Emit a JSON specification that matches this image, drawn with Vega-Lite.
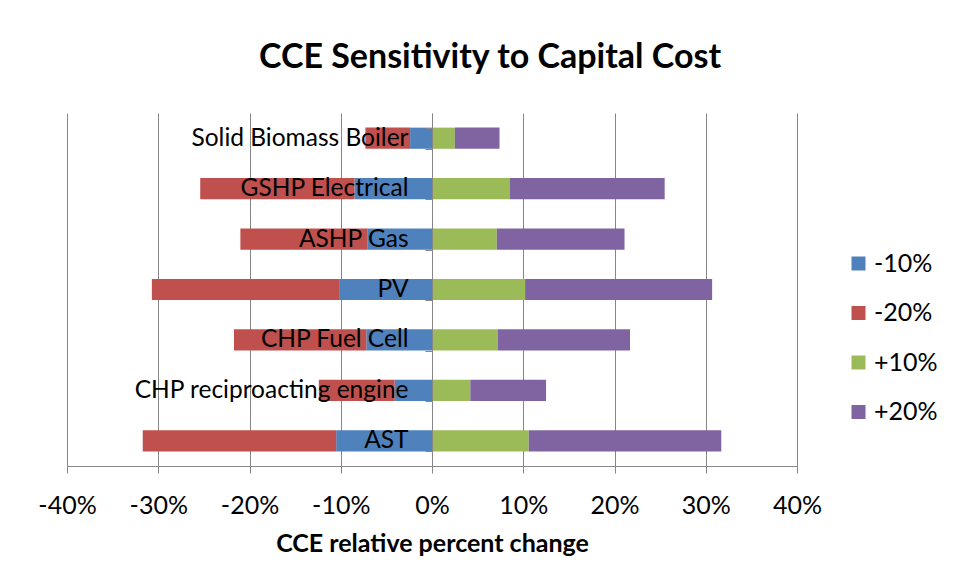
{
  "$schema": "https://vega.github.io/schema/vega-lite/v6.json",
  "width": 730,
  "height": 353,
  "autosize": {"type": "none"},
  "padding": {"left": 67, "top": 113, "right": 161, "bottom": 117},
  "background": "white",
  "title": {
    "text": "CCE Sensitivity to Capital Cost",
    "font": "Lato",
    "fontSize": 34,
    "fontWeight": "bold",
    "color": "#000000",
    "anchor": "middle",
    "frame": "group",
    "dx": 58,
    "offset": 25
  },
  "data": {
    "values": [
      {"tech": "Solid Biomass Boiler", "scenario": "-10%", "ord": 1, "value": -0.024},
      {"tech": "Solid Biomass Boiler", "scenario": "-20%", "ord": 2, "value": -0.049},
      {"tech": "Solid Biomass Boiler", "scenario": "+10%", "ord": 3, "value": 0.025},
      {"tech": "Solid Biomass Boiler", "scenario": "+20%", "ord": 4, "value": 0.049},
      {"tech": "GSHP Electrical", "scenario": "-10%", "ord": 1, "value": -0.085},
      {"tech": "GSHP Electrical", "scenario": "-20%", "ord": 2, "value": -0.169},
      {"tech": "GSHP Electrical", "scenario": "+10%", "ord": 3, "value": 0.085},
      {"tech": "GSHP Electrical", "scenario": "+20%", "ord": 4, "value": 0.170},
      {"tech": "ASHP Gas", "scenario": "-10%", "ord": 1, "value": -0.071},
      {"tech": "ASHP Gas", "scenario": "-20%", "ord": 2, "value": -0.139},
      {"tech": "ASHP Gas", "scenario": "+10%", "ord": 3, "value": 0.071},
      {"tech": "ASHP Gas", "scenario": "+20%", "ord": 4, "value": 0.140},
      {"tech": "PV", "scenario": "-10%", "ord": 1, "value": -0.101},
      {"tech": "PV", "scenario": "-20%", "ord": 2, "value": -0.206},
      {"tech": "PV", "scenario": "+10%", "ord": 3, "value": 0.102},
      {"tech": "PV", "scenario": "+20%", "ord": 4, "value": 0.205},
      {"tech": "CHP Fuel Cell", "scenario": "-10%", "ord": 1, "value": -0.072},
      {"tech": "CHP Fuel Cell", "scenario": "-20%", "ord": 2, "value": -0.145},
      {"tech": "CHP Fuel Cell", "scenario": "+10%", "ord": 3, "value": 0.072},
      {"tech": "CHP Fuel Cell", "scenario": "+20%", "ord": 4, "value": 0.145},
      {"tech": "CHP reciproacting engine", "scenario": "-10%", "ord": 1, "value": -0.041},
      {"tech": "CHP reciproacting engine", "scenario": "-20%", "ord": 2, "value": -0.083},
      {"tech": "CHP reciproacting engine", "scenario": "+10%", "ord": 3, "value": 0.042},
      {"tech": "CHP reciproacting engine", "scenario": "+20%", "ord": 4, "value": 0.083},
      {"tech": "AST", "scenario": "-10%", "ord": 1, "value": -0.105},
      {"tech": "AST", "scenario": "-20%", "ord": 2, "value": -0.212},
      {"tech": "AST", "scenario": "+10%", "ord": 3, "value": 0.106},
      {"tech": "AST", "scenario": "+20%", "ord": 4, "value": 0.211}
    ]
  },
  "mark": {"type": "bar"},
  "encoding": {
    "y": {
      "field": "tech",
      "type": "nominal",
      "sort": ["Solid Biomass Boiler", "GSHP Electrical", "ASHP Gas", "PV", "CHP Fuel Cell", "CHP reciproacting engine", "AST"],
      "scale": {"paddingInner": 0.58, "paddingOuter": 0.29},
      "axis": {
        "title": null,
        "orient": "left",
        "offset": -365,
        "domainColor": "#868686",
        "tickColor": "#868686",
        "tickBand": "extent",
        "tickSize": 7,
        "labelPadding": 17,
        "labelFont": "Lato",
        "labelFontSize": 24.5,
        "labelColor": "#000000",
        "labelLimit": 500,
        "grid": false,
        "zindex": 1
      }
    },
    "x": {
      "field": "value",
      "type": "quantitative",
      "stack": "zero",
      "scale": {"domain": [-0.4, 0.4], "nice": false},
      "axis": {
        "title": "CCE relative percent change",
        "titleFont": "Lato",
        "titleFontSize": 25,
        "titleFontWeight": "bold",
        "titleColor": "#000000",
        "titlePadding": 13,
        "labelFont": "Lato",
        "labelFontSize": 25,
        "labelColor": "#000000",
        "labelPadding": 20,
        "labelFlush": false,
        "labelOverlap": false,
        "labelExpr": "replace(format(datum.value, '.0%'), '\u2212', '-')",
        "values": [-0.4, -0.3, -0.2, -0.1, 0, 0.1, 0.2, 0.3, 0.4],
        "tickSize": 7,
        "tickColor": "#868686",
        "domainColor": "#868686",
        "gridColor": "#868686",
        "gridOpacity": 1,
        "grid": true
      }
    },
    "color": {
      "field": "scenario",
      "type": "nominal",
      "scale": {
        "domain": ["-10%", "-20%", "+10%", "+20%"],
        "range": ["#4F81BD", "#C0504D", "#9BBB59", "#8064A2"]
      },
      "legend": {
        "orient": "none",
        "legendX": 779,
        "legendY": 138,
        "title": null,
        "symbolType": "square",
        "symbolSize": 196,
        "symbolStrokeWidth": 0,
        "labelFont": "Lato",
        "labelFontSize": 25,
        "labelColor": "#000000",
        "labelOffset": 3,
        "rowPadding": 23.5,
        "padding": 0
      }
    },
    "order": {"field": "ord", "type": "quantitative"}
  },
  "config": {"view": {"stroke": null}}
}
